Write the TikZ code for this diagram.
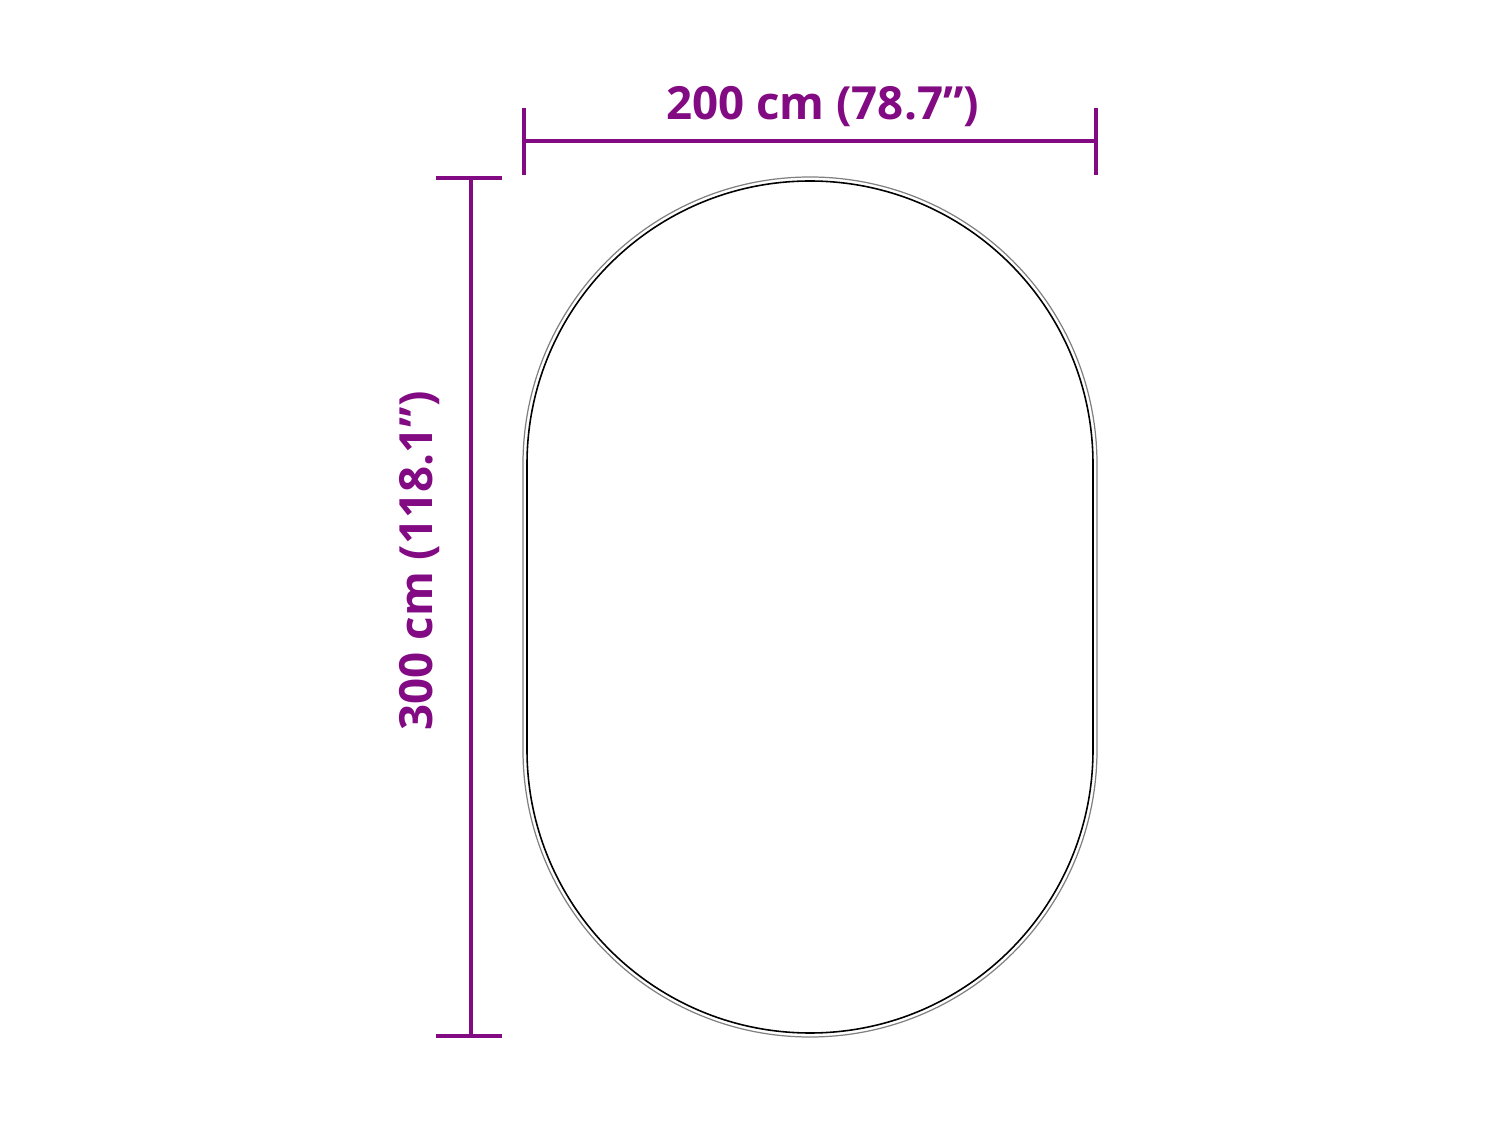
\documentclass[tikz,border=0pt]{standalone}
\usepackage{fontspec}
\setmainfont{Open Sans}
\definecolor{dimpurple}{HTML}{820A82}
\tikzset{
	dimline/.style={dimpurple,line width=0.9pt},
	dimlabel/.style={text=dimpurple,font=\fontsize{13}{16}\selectfont\bfseries,inner sep=0pt},
}
\begin{document}
\begin{tikzpicture}
	\useasboundingbox (0,0) rectangle (15,11.25);
	% rug outline
	\draw[gray,line width=0.35pt,rounded corners=2.87cm] (5.23,0.88) rectangle (10.97,9.48);
	\draw[black,line width=0.45pt,rounded corners=2.83cm] (5.27,0.92) rectangle (10.93,9.44);
	% width
	\coordinate (wl) at (5.24,9.84);
	\coordinate (wr) at (10.96,9.84);
	\draw[dimline] (wl) -- (wr);
	\draw[dimline] ([yshift=0.33cm]wl) -- ([yshift=-0.34cm]wl);
	\draw[dimline] ([yshift=0.33cm]wr) -- ([yshift=-0.34cm]wr);
	\node[dimlabel] (wlab) at (8.225,10.18) {200 cm (78.7”)};
	% length
	\coordinate (lt) at (4.71,9.47);
	\coordinate (lb) at (4.71,0.89);
	\draw[dimline] (lt) -- (lb);
	\draw[dimline] ([xshift=-0.35cm]lt) -- ([xshift=0.31cm]lt);
	\draw[dimline] ([xshift=-0.35cm]lb) -- ([xshift=0.31cm]lb);
	\node[dimlabel,rotate=90] (llab) at (4.20,5.64) {300 cm (118.1”)};
\end{tikzpicture}
\end{document}
